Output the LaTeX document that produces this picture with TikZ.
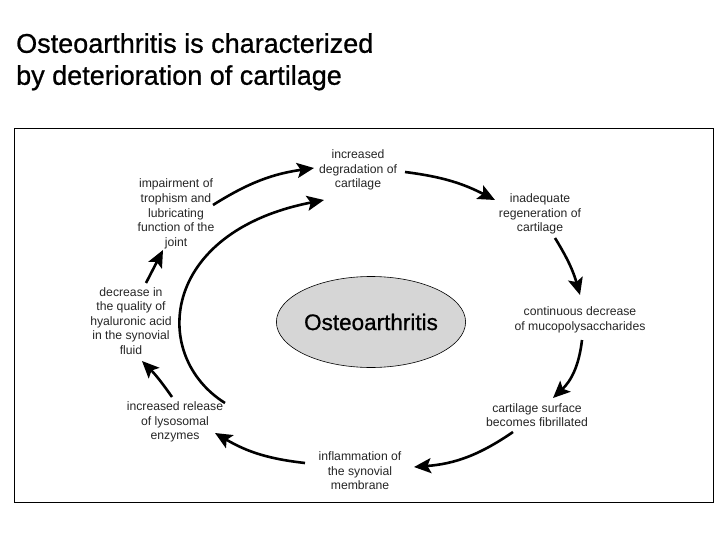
\documentclass[tikz,border=0pt]{standalone}
\usepackage{fontspec}
\setmainfont{Liberation Sans}
\newfontfamily\titlefont[FakeBold=0.8]{Liberation Sans}
\usetikzlibrary{arrows.meta,shapes.geometric}
\begin{document}
\begin{tikzpicture}[x=1pt,y=-1pt,
  lbl/.style={align=center, font=\fontsize{12.2}{14.6}\selectfont, inner sep=1pt, text=black!85},
  arr/.style={line width=2.6pt, -{Stealth[length=17pt,width=15pt,inset=3.5pt]}}]
\useasboundingbox (0,0) rectangle (720,540);
\fill[white] (0,0) rectangle (720,540);
% title
\node[anchor=north west, font=\titlefont\fontsize{27}{32}\selectfont, align=left, inner sep=0pt] (title) at (16,33)
  {Osteoarthritis is characterized\\by deterioration of cartilage};
% frame
\node[draw, line width=1pt, minimum width=699pt, minimum height=373pt, inner sep=0pt] (frame) at (363.5,315.5) {};
% centre ellipse
\node[ellipse, draw, line width=0.6pt, fill=gray!32, minimum width=162pt, minimum height=91pt,
      inner sep=0pt, font=\titlefont\fontsize{22.5}{26}\selectfont] (oa) at (371,322) {Osteoarthritis};
% labels
\node[lbl] (deg)  at (358,170) {increased\\degradation of\\cartilage};
\node[lbl] (inad) at (540,214) {inadequate\\regeneration of\\cartilage};
\node[lbl] (cont) at (580,320) {continuous decrease\\of mucopolysaccharides};
\node[lbl] (fib)  at (537,415) {cartilage surface\\becomes fibrillated};
\node[lbl] (infl) at (360,471) {inflammation of\\the synovial\\membrane};
\node[lbl] (rel)  at (175,422) {increased release\\of lysosomal\\enzymes};
\node[lbl] (hya)  at (131,321) {decrease in\\the quality of\\hyaluronic acid\\in the synovial\\fluid};
\node[lbl] (imp)  at (176,214) {impairment of\\trophism and\\lubricating\\function of the\\joint};
% arrows
\draw[arr] ([shift={(37,-9)}]imp.center) to[bend left=12] ([shift={(-44,-2)}]deg.center);
\draw[arr] ([shift={(50,-19)}]rel.center) .. controls (150,356) and (160,232) .. ([shift={(-34,30)}]deg.center);
\draw[arr] ([shift={(47,2)}]deg.center) to[bend left=10] ([shift={(-45,-14)}]inad.center);
\draw[arr] ([shift={(15,24)}]inad.center) to[bend left=8] ([shift={(0,-25)}]cont.center);
\draw[arr] ([shift={(2,20)}]cont.center) to[bend left=20] ([shift={(16,-17)}]fib.center);
\draw[arr] ([shift={(-24,17)}]fib.center) to[bend left=15] ([shift={(54,-4)}]infl.center);
\draw[arr] ([shift={(-55,-8)}]infl.center) to[bend left=12] ([shift={(40,11)}]rel.center);
\draw[arr] ([shift={(-3,-25)}]rel.center) to[bend right=5] ([shift={(11,40)}]hya.center);
\draw[arr] ([shift={(15,-38)}]hya.center) -- ([shift={(-13,36)}]imp.center);
\end{tikzpicture}
\end{document}
